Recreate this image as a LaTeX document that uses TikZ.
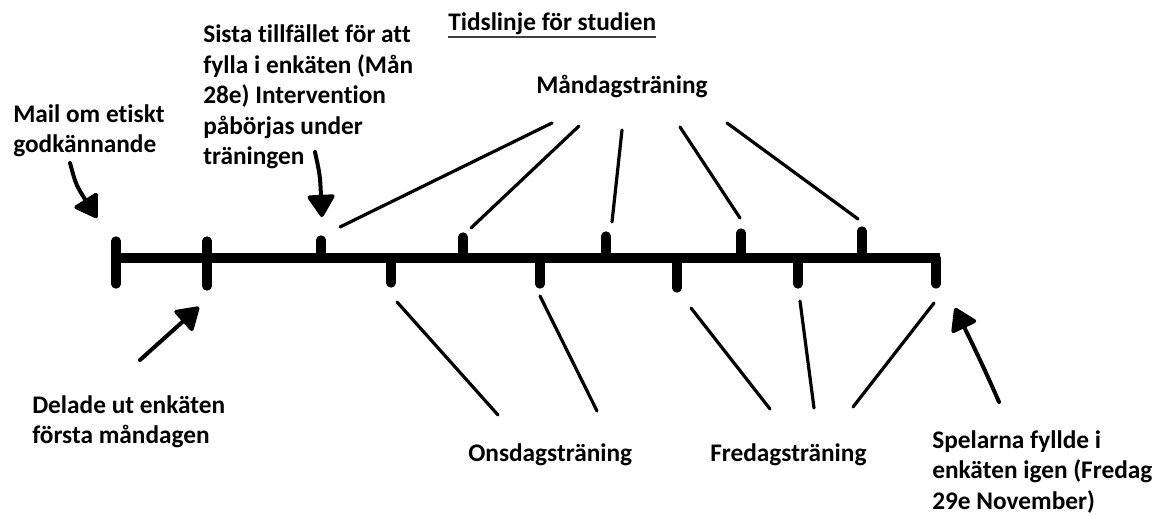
\documentclass[tikz,border=0pt]{standalone}
\usepackage{fontspec}
\setmainfont{Carlito}[Ligatures={NoCommon,NoContextual}]
\usetikzlibrary{arrows.meta}

\begin{document}
\begin{tikzpicture}[x=0.75pt, y=-0.75pt,
    txt/.style={font=\fontsize{19}{22.8}\selectfont\bfseries, align=left, anchor=west, inner sep=0pt},
    tick/.style={line width=7pt, line cap=round},
    spoke/.style={line width=2.4pt, line cap=round},
    pil/.style={line width=3pt, line cap=round, -{Triangle[length=18pt,width=22pt,round]}}]
    \useasboundingbox (0,0) rectangle (1155,516);

    % tidslinjen
    \draw [line width=7.5pt] (116,258) -- (940,258);
    \foreach \x/\t/\b in {116/241/284, 207/241/286}
        \draw [tick] (\x,\t) -- (\x,\b);
    \foreach \x/\t in {321/240, 463/237, 606/236, 741/233, 862/231}
        \draw [tick] (\x,\t) -- (\x,258);
    \foreach \x/\b in {391/283, 540/284, 677/288, 798/284, 936/284}
        \draw [tick] (\x,258) -- (\x,\b);

    % texter
    \node [txt] (title) at (448,24) {Tidslinje för studien};
    \draw [line width=1.4pt, black!75] ([yshift=-1.5pt]title.south west) -- ([yshift=-1.5pt]title.south east);
    \node [txt] (mail) at (13,131) {Mail om etiskt\\godkännande};
    \node [txt] (sista) at (203,97) {Sista tillfället för att\\fylla i enkäten (Mån\\28e) Intervention\\påbörjas under\\träningen};
    \node [txt] (man) at (536,86) {Måndagsträning};
    \node [txt] (delade) at (32,422) {Delade ut enkäten\\första måndagen};
    \node [txt] (ons) at (468,455) {Onsdagsträning};
    \node [txt] (fre) at (710,455) {Fredagsträning};
    \node [txt] (spel) at (932,472) {Spelarna fyllde i\\enkäten igen (Fredag\\29e November)};

    % streck till träningarna
    \foreach \i/\p/\q in {1/{552,123}/{340,227}, 2/{579,126}/{471,228}, 3/{622,130}/{612,222},
                          4/{680,127}/{740,218}, 5/{727,123}/{858,219}}{
        \coordinate (ms\i) at (\p);
        \coordinate (me\i) at (\q);
        \draw [spoke] (ms\i) -- (me\i);
    }
    \foreach \i/\p/\q in {1/{397,302}/{498,415}, 2/{540,296}/{597,411}}{
        \coordinate (os\i) at (\p);
        \coordinate (oe\i) at (\q);
        \draw [spoke] (os\i) -- (oe\i);
    }
    \foreach \i/\p/\q in {1/{691,308}/{770,409}, 2/{800,301}/{814,408}, 3/{934,303}/{853,407}}{
        \coordinate (fs\i) at (\p);
        \coordinate (fe\i) at (\q);
        \draw [spoke] (fs\i) -- (fe\i);
    }

    % pilar
    \coordinate (mailtail) at (70,163);
    \coordinate (mailtip) at (97,218);
    \draw [pil] (mailtail) .. controls (76,185) .. (mailtip);
    \coordinate (sistatail) at (315,152);
    \coordinate (sistatip) at (322,217);
    \draw [pil] (sistatail) .. controls (320,175) .. (sistatip);
    \coordinate (deladetail) at (140,360);
    \coordinate (deladetip) at (199,307);
    \draw [pil] (deladetail) -- (deladetip);
    \coordinate (speltail) at (999,402);
    \coordinate (speltip) at (955,308);
    \draw [pil] (speltail) .. controls (982,363) and (968,335) .. (speltip);
\end{tikzpicture}
\end{document}
